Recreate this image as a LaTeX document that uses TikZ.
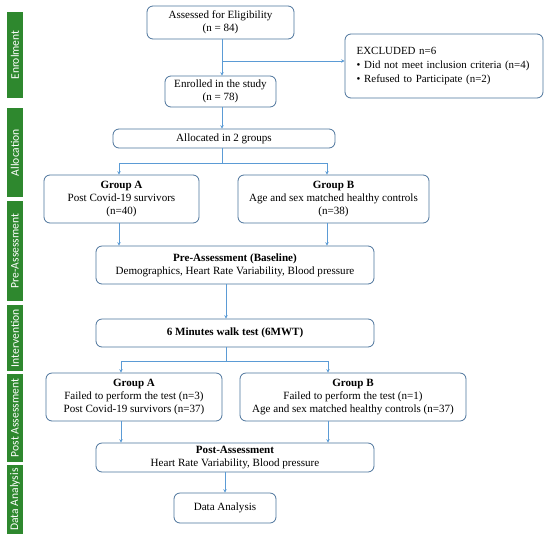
\documentclass[tikz,border=0pt]{standalone}
\usepackage{fontspec}
\setmainfont{Liberation Serif}
\newfontfamily\sidefont{Carlito}
\usetikzlibrary{arrows.meta}
\definecolor{linec}{RGB}{91,155,213}
\definecolor{boxc}{RGB}{75,115,155}
\definecolor{sideg}{RGB}{46,136,46}
\begin{document}
\begin{tikzpicture}[x=0.75pt,y=-0.75pt,
  box/.style={draw=boxc,line width=0.6pt,rounded corners=4.5pt,align=center,inner sep=0pt,
    font=\fontsize{8.3}{9.8}\selectfont},
  sidebar/.style={fill=sideg,text=white,rotate=90,inner sep=0pt,minimum height=12pt,
    font=\sidefont\fontsize{8.7}{9}\selectfont},
  conn/.style={draw=linec,line width=0.6pt},
  arr/.style={conn,-{Stealth[length=2.6pt,width=2.6pt]}}]
\useasboundingbox (0,0) rectangle (550,540);
% side bars
\node[sidebar,minimum width=64.5pt] (s1) at (15,55) {Enrolment};
\node[sidebar,minimum width=66.75pt] (s2) at (15,152.5) {Allocation};
\node[sidebar,minimum width=75pt] (s3) at (15,251) {Pre-Assessment};
\node[sidebar,minimum width=49.5pt] (s4) at (15,338) {Intervention};
\node[sidebar,minimum width=66pt] (s5) at (15,418) {Post Assessment};
\node[sidebar,minimum width=51.75pt] (s6) at (15,499.5) {Data Analysis};
% boxes
\node[box,minimum width=110.25pt,minimum height=24.75pt] (b1) at (220.5,22.5) {Assessed for Eligibility\\(n = 84)};
\node[box,minimum width=148.5pt,minimum height=48pt,align=left,text width=131pt,inner xsep=8.75pt,
  font=\fontsize{8.2}{10.2}\selectfont] (ex) at (444,66)
  {EXCLUDED n=6\\\textbullet\ Did not meet inclusion criteria (n=4)\\\textbullet\ Refused to Participate (n=2)};
\node[box,minimum width=83.25pt,minimum height=23.25pt] (b2) at (220.5,91.5) {Enrolled in the study\\(n = 78)};
\node[box,minimum width=166.5pt,minimum height=14.25pt] (b3) at (224,138.5) {Allocated in 2 groups};
\node[box,minimum width=116.25pt,minimum height=36pt] (ga) at (121.5,199) {\textbf{Group A}\\Post Covid-19 survivors\\(n=40)};
\node[box,minimum width=143.25pt,minimum height=36pt] (gb) at (333.5,199) {\textbf{Group B}\\Age and sex matched healthy controls\\(n=38)};
\node[box,minimum width=208.5pt,minimum height=28.5pt] (pre) at (235,265) {\textbf{Pre-Assessment (Baseline)}\\Demographics, Heart Rate Variability, Blood pressure};
\node[box,minimum width=208.5pt,minimum height=21pt] (int) at (235,333) {\textbf{6 Minutes walk test (6MWT)}};
\node[box,minimum width=132pt,minimum height=36pt] (ga2) at (134,397) {\textbf{Group A}\\Failed to perform the test (n=3)\\Post Covid-19 survivors (n=37)};
\node[box,minimum width=169.5pt,minimum height=36pt] (gb2) at (353,397) {\textbf{Group B}\\Failed to perform the test (n=1)\\Age and sex matched healthy controls (n=37)};
\node[box,minimum width=208.5pt,minimum height=21.75pt] (post) at (235,457.5) {\textbf{Post-Assessment}\\Heart Rate Variability, Blood pressure};
\node[box,minimum width=76.5pt,minimum height=22.5pt] (da) at (225,508) {Data Analysis};
% connectors
\coordinate (j1) at (222,61);
\draw[conn] (b1.south -| j1) -- (j1);
\draw[arr] (j1) -- (b2.north -| j1);
\draw[arr] (j1) -- (ex.west |- j1);
\draw[arr] (b2.south -| j1) -- (b3.north -| j1);
\coordinate (j2) at (222,163);
\coordinate (j2a) at (119,163);
\coordinate (j2b) at (327,163);
\draw[conn] (b3.south -| j2) -- (j2);
\draw[conn] (j2a) -- (j2b);
\draw[arr] (j2a) -- (ga.north -| j2a);
\draw[arr] (j2b) -- (gb.north -| j2b);
\draw[arr] (ga.south -| j2a) -- (pre.north -| j2a);
\draw[arr] (gb.south -| j2b) -- (pre.north -| j2b);
\coordinate (j3) at (226,0);
\draw[arr] (pre.south -| j3) -- (int.north -| j3);
\coordinate (j4) at (226,361);
\coordinate (j4a) at (121,361);
\coordinate (j4b) at (328,361);
\draw[conn] (int.south -| j4) -- (j4);
\draw[conn] (j4a) -- (j4b);
\draw[arr] (j4a) -- (ga2.north -| j4a);
\draw[arr] (j4b) -- (gb2.north -| j4b);
\draw[arr] (ga2.south -| j4a) -- (post.north -| j4a);
\draw[arr] (gb2.south -| j4b) -- (post.north -| j4b);
\coordinate (j5) at (225,0);
\draw[arr] (post.south -| j5) -- (da.north -| j5);
\end{tikzpicture}
\end{document}
